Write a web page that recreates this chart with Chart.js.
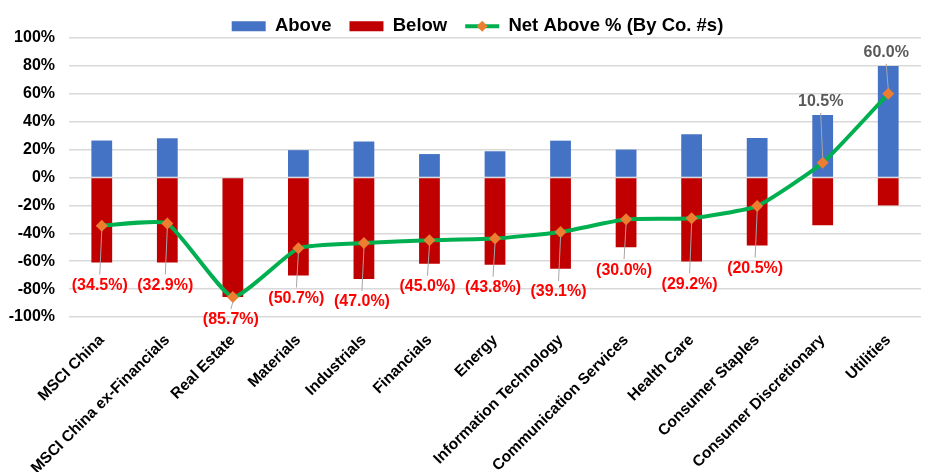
<!DOCTYPE html>
<html><head><meta charset="utf-8">
<script src="https://cdn.jsdelivr.net/npm/chart.js@4"></script>
<style>html,body{margin:0;padding:0;background:#fff;overflow:hidden}#wrap{width:927px;height:472px;position:relative}</style>
</head><body><div id="wrap"><canvas id="c"></canvas></div>
<script>
const categories = ['MSCI China','MSCI China ex-Financials','Real Estate','Materials','Industrials','Financials','Energy','Information Technology','Communication Services','Health Care','Consumer Staples','Consumer Discretionary','Utilities'];
const aboveValues = [26.5, 28.1, 0, 19.6, 25.8, 16.8, 18.8, 26.4, 20.0, 31.0, 28.3, 44.8, 80.0];
const belowValues = [-61.0, -61.0, -85.7, -70.3, -72.8, -61.8, -62.6, -65.5, -50.0, -60.2, -48.8, -34.3, -20.0];
const netAbovePct = [-34.5, -32.9, -85.7, -50.7, -47.0, -45.0, -43.8, -39.1, -30.0, -29.2, -20.5, 10.5, 60.0];
const seriesNames = ['Above', 'Below', 'Net Above % (By Co. #s)'];
const yMin = -100, yMax = 100, yStep = 20;

const FONT = '"Liberation Sans", Arial, sans-serif';
const BLUE = '#4472C4', RED = '#C00000', GREEN = '#00B050', ORANGE = '#ED7D31';

function fmtNet(v){ return v < 0 ? '(' + Math.abs(v).toFixed(1) + '%)' : v.toFixed(1) + '%'; }

const netLabels = {
  id: 'netLabels',
  afterDatasetsDraw(chart){
    const ctx = chart.ctx, y = chart.scales.y;
    const meta = chart.getDatasetMeta(2);
    ctx.save();
    ctx.font = 'bold 16px ' + FONT;
    ctx.textAlign = 'center'; ctx.textBaseline = 'middle';
    netAbovePct.forEach((v, i) => {
      const pt = meta.data[i];
      const neg = v < 0;
      const ly = neg ? y.getPixelForValue(belowValues[i]) + 23 : y.getPixelForValue(aboveValues[i]) - 13;
      const lx = pt.x - 2;
      ctx.strokeStyle = '#A6A6A6'; ctx.lineWidth = 1;
      ctx.beginPath();
      ctx.moveTo(pt.x, pt.y + (neg ? 5 : -5));
      ctx.lineTo(lx, neg ? ly - 11 : ly + 11);
      ctx.stroke();
      ctx.fillStyle = neg ? '#FF0000' : '#595959';
      ctx.fillText(fmtNet(v), lx, ly);
    });
    ctx.restore();
  }
};

const legendTweak = {
  id: 'legendTweak',
  afterLayout(chart){
    const lg = chart.legend;
    if (!lg) return;
    lg.left += 8; lg.right += 8;
    lg.top -= 1;
  },
  afterDraw(chart){
    const lg = chart.legend;
    if (!lg || !lg.legendHitBoxes || !lg.legendHitBoxes[2]) return;
    const hb = lg.legendHitBoxes[2];
    const bw = lg.options.labels.pointStyleWidth;
    const fs = lg.options.labels.font.size;
    const cx = hb.left + bw / 2, cy = hb.top + fs / 2;
    const ctx = chart.ctx;
    ctx.save();
    ctx.fillStyle = ORANGE;
    ctx.beginPath();
    ctx.moveTo(cx, cy - 5.5); ctx.lineTo(cx + 5.5, cy); ctx.lineTo(cx, cy + 5.5); ctx.lineTo(cx - 5.5, cy);
    ctx.closePath(); ctx.fill();
    ctx.restore();
  }
};

new Chart(document.getElementById('c'), {
  type: 'bar',
  data: {
    labels: categories,
    datasets: [
      { label: seriesNames[0], data: aboveValues, backgroundColor: BLUE, stack: 'bars', order: 1, categoryPercentage: 1, barPercentage: 0.317 },
      { label: seriesNames[1], data: belowValues, backgroundColor: RED, stack: 'bars', order: 1, categoryPercentage: 1, barPercentage: 0.317 },
      { type: 'line', label: seriesNames[2], data: netAbovePct, stack: 'net', order: 0,
        borderColor: GREEN, borderWidth: 4, tension: 0.15, fill: false,
        pointStyle: 'rectRot', pointRadius: 6, pointHoverRadius: 6,
        pointBackgroundColor: ORANGE, pointBorderColor: ORANGE, pointBorderWidth: 0 }
    ]
  },
  options: {
    responsive: true, maintainAspectRatio: false, animation: false,
    layout: { padding: { top: 0, left: 0, right: -12, bottom: 0 } },
    plugins: {
      tooltip: { enabled: false },
      legend: {
        position: 'top', maxHeight: 38,
        labels: {
          usePointStyle: true, pointStyleWidth: 34, boxHeight: 10, padding: 18,
          color: '#000', font: { family: FONT, size: 18.5, weight: 'bold' },
          generateLabels(){
            return [
              { text: seriesNames[0], fillStyle: BLUE, strokeStyle: BLUE, lineWidth: 0, pointStyle: 'rect', datasetIndex: 0, fontColor: '#000' },
              { text: seriesNames[1], fillStyle: RED, strokeStyle: RED, lineWidth: 0, pointStyle: 'rect', datasetIndex: 1, fontColor: '#000' },
              { text: seriesNames[2], fillStyle: GREEN, strokeStyle: GREEN, lineWidth: 4, pointStyle: 'line', datasetIndex: 2, fontColor: '#000' }
            ];
          }
        }
      }
    },
    scales: {
      x: {
        stacked: true,
        grid: { display: false },
        border: { display: false },
        ticks: { color: '#000', font: { family: FONT, size: 15.5, weight: 'bold' }, minRotation: 45, maxRotation: 45, autoSkip: false, padding: 6 },
        afterFit(s){ s.height = 155; }
      },
      y: {
        stacked: true, min: yMin, max: yMax,
        grid: { color: '#D9D9D9', lineWidth: 1.5, drawTicks: false },
        border: { display: false },
        ticks: { stepSize: yStep, color: '#000', padding: 14, font: { family: FONT, size: 16, weight: 'bold' }, callback: v => v + '%' },
        afterFit(s){ s.width = 69; }
      }
    }
  },
  plugins: [netLabels, legendTweak]
});
</script></body></html>
